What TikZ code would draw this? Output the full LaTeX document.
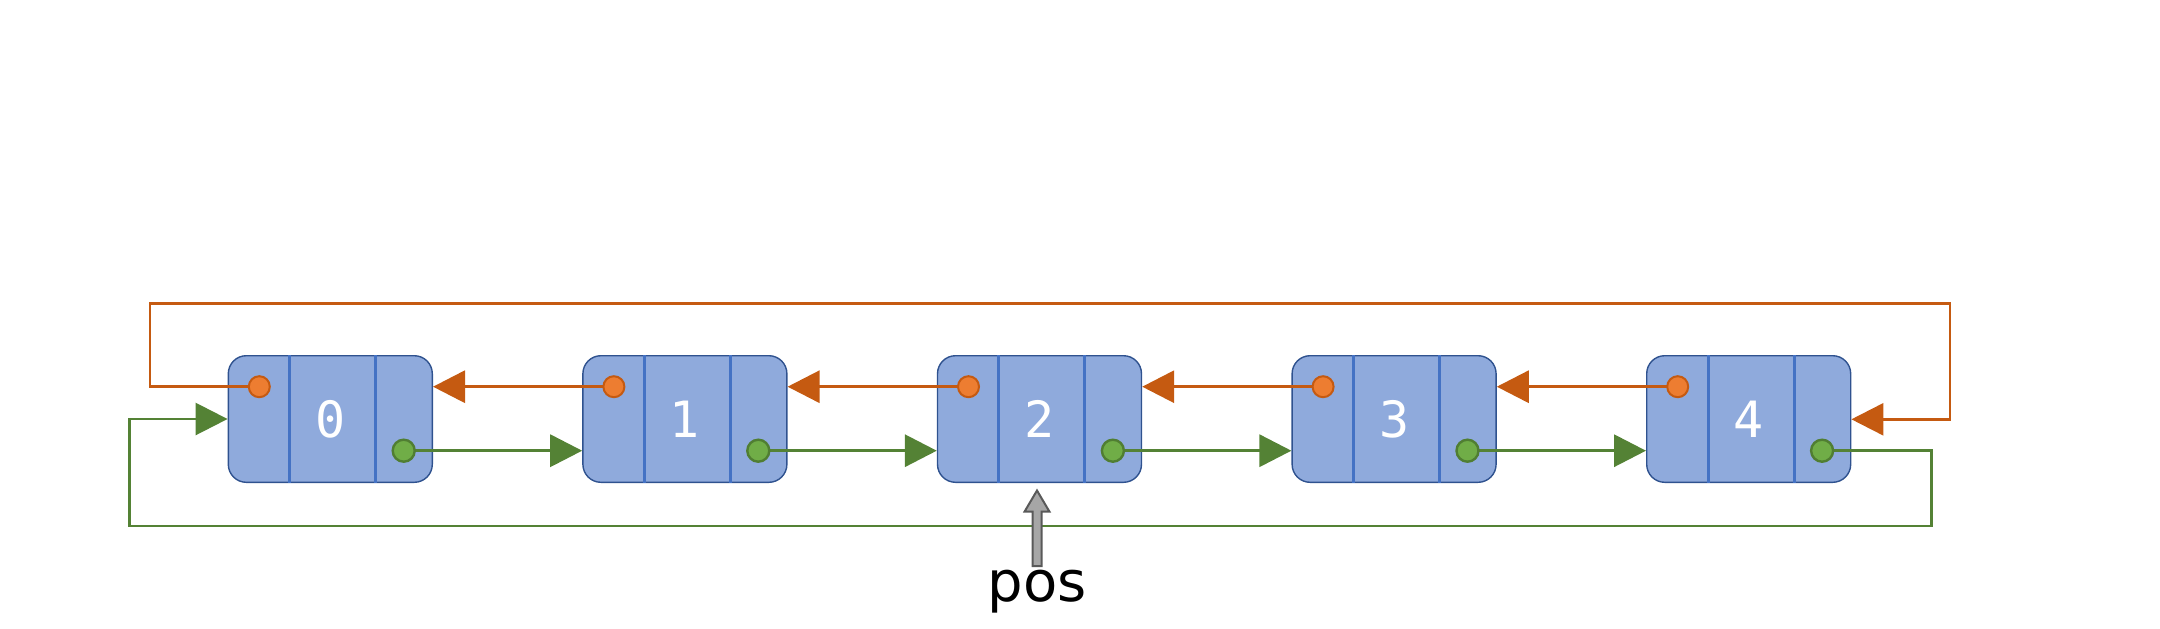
\documentclass[tikz,border=0pt]{standalone}
\usepackage{fontspec}
\setmainfont{DejaVu Sans}
\newfontfamily\digitfont{DejaVu Sans Mono}
\usetikzlibrary{arrows.meta,calc}
\pgfdeclarelayer{bg}
\pgfdeclarelayer{fg}
\pgfsetlayers{bg,main,fg}
\definecolor{boxfill}{HTML}{8FAADC}
\definecolor{boxline}{HTML}{2F528F}
\definecolor{divline}{HTML}{4472C4}
\definecolor{ofill}{HTML}{ED7D31}
\definecolor{oline}{HTML}{C55A11}
\definecolor{gfill}{HTML}{70AD47}
\definecolor{gline}{HTML}{507E32}
\definecolor{garrow}{HTML}{548235}
\definecolor{pfill}{HTML}{A6A6A6}
\definecolor{pline}{HTML}{595959}
\tikzset{
  listnode/.style={draw=boxline, line width=0.7pt, fill=boxfill, rounded corners=9pt,
    minimum width=102pt, minimum height=63.3pt, inner sep=0pt,
    text=white, font=\digitfont\fontsize{25}{30}\selectfont},
  divider/.style={draw=divline, line width=1.5pt},
  odot/.style={circle, draw=oline, fill=ofill, line width=1pt, minimum size=10.5pt, inner sep=0pt},
  gdot/.style={circle, draw=gline, fill=gfill, line width=1.2pt, minimum size=11pt, inner sep=0pt},
  oarrow/.style={draw=oline, line width=1.6pt, -{Triangle[length=16pt,width=16pt]}},
  garr/.style={draw=garrow, line width=1.7pt, -{Triangle[length=16pt,width=16pt]}},
  oloop/.style={draw=oline, line width=1.3pt, -{Triangle[length=16pt,width=16pt]}},
  gloop/.style={draw=garrow, line width=1.3pt, -{Triangle[length=16pt,width=16pt]}},
  posarrow/.style={draw=pline, fill=pfill, line width=1pt, line join=miter},
  poslabel/.style={font=\fontsize{28}{32}\selectfont, inner sep=0pt, anchor=base}
}
\begin{document}
\begin{tikzpicture}[x=0.5pt, y=-0.5pt]
\useasboundingbox (0,0) rectangle (2160,628);
\begin{pgfonlayer}{bg}
\foreach \i in {0,...,4} {
  \node[listnode] (n\i) at ({330.3+354.6*\i},419) {\i};
  \draw[divider] ($(n\i.north west)+(62,0)$) -- ($(n\i.south west)+(62,0)$);
  \draw[divider] ($(n\i.north west)+(148,0)$) -- ($(n\i.south west)+(148,0)$);
}
\end{pgfonlayer}
\begin{pgfonlayer}{fg}
\foreach \i in {0,...,4} {
  \node[odot] (o\i) at ({259.3+354.6*\i},386.7) {};
  \node[gdot] (g\i) at ({403.7+354.6*\i},450.7) {};
}
\end{pgfonlayer}
% previous pointers
\foreach \i/\j in {1/0,2/1,3/2,4/3} {
  \draw[oarrow] (o\i.center) -- (o\i.center -| n\j.east);
}
% next pointers
\foreach \i/\j in {0/1,1/2,2/3,3/4} {
  \draw[garr] (g\i.center) -- (g\i.center -| n\j.west);
}
% wrap-around links
\coordinate (otl) at (150,303.3);
\coordinate (otr) at (1950,303.3);
\draw[oloop] (o0.center) -| (otl) -- (otr) |- ($(n4.east)+(0,0.3)$);
\coordinate (gbr) at (1931.7,526);
\coordinate (gbl) at (129.3,526);
\draw[gloop] (g4.center) -| (gbr) -- (gbl) |- (n0.west);
% pos marker
\node[poslabel] (pos) at (1037.2,601.7) {pos};
\draw[posarrow] (1032.5,566) -- (1032.5,511.7) -- (1024.5,511.7) -- (1037,490.5)
  -- (1049.5,511.7) -- (1041.5,511.7) -- (1041.5,566) -- cycle;
\end{tikzpicture}
\end{document}
